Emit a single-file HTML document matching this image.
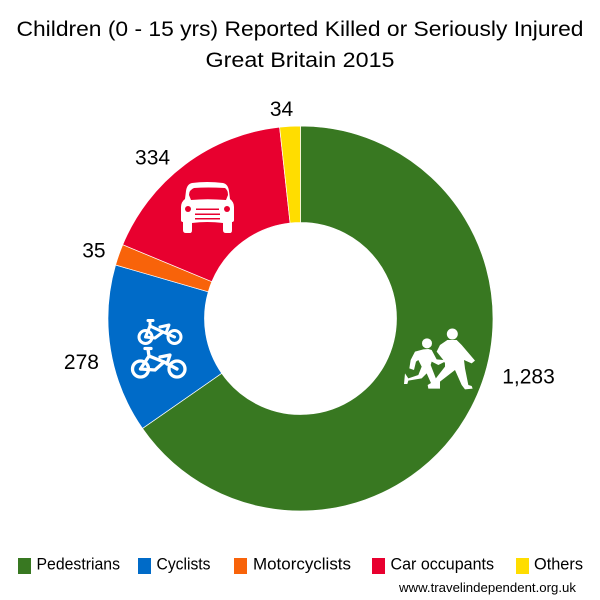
<!DOCTYPE html>
<html>
<head>
<meta charset="utf-8">
<title>Children Reported Killed or Seriously Injured</title>
<style>
html,body{margin:0;padding:0;background:#fff;width:600px;height:600px;overflow:hidden}
svg{display:block}
text{font-family:"Liberation Sans",sans-serif;fill:#000}
</style>
</head>
<body>
<svg id="chart" width="600" height="600" viewBox="0 0 600 600" xmlns="http://www.w3.org/2000/svg">
  <text x="300" y="36" text-anchor="middle" font-size="21.5" textLength="567" lengthAdjust="spacingAndGlyphs">Children (0 - 15 yrs) Reported Killed or Seriously Injured</text>
  <text x="300" y="67" text-anchor="middle" font-size="21.5" textLength="189" lengthAdjust="spacingAndGlyphs">Great Britain 2015</text>
  <g id="slices"></g>
  <g id="labels"></g>

  <g fill="#fff">
    <path fill-rule="evenodd" d="M192 183 Q187 184 186 191 L185 199 Q181 202 181 207 L181 220 Q181 222 183 222 L183 230 Q183 233 186 233 L190 233 Q192 233 192 230 L192 223 Q207 221 223 223 L223 230 Q223 233 226 233 L230 233 Q232 233 232 230 L232 222 Q234 222 234 220 L234 207 Q234 202 230 199 L229 191 Q228 184 223 183 Q207 181 192 183 Z M194 188 Q207 187 225 188 Q228 190 228 195 L226 200 Q207 198.500 191 200 L189 195 Q189 190 194 188 Z"/>
    <g fill="#e8002f">
      <circle cx="188" cy="209" r="3"/>
      <circle cx="227" cy="209" r="3"/>
      <rect x="196" y="208.500" width="23" height="1.500"/>
      <rect x="195" y="213.500" width="25" height="1.500"/>
      <rect x="195" y="218" width="25" height="1.500"/>
    </g>
  </g>

  <g fill="none" stroke="#fff" stroke-linecap="round" stroke-linejoin="round">
    <g stroke-width="3">
      <circle cx="145.500" cy="337" r="6.500"/>
      <circle cx="174.500" cy="337" r="6.500"/>
      <path d="M150 321 L150 326 L145.500 337 M150 326 L163 332 L174.500 337 M163 332 L155 338 L145.500 337 M148 320.500 L153 320.500 M160 327 L169 325 L166 333"/>
    </g>
    <g stroke-width="3.300">
      <circle cx="140.500" cy="369" r="8"/>
      <circle cx="177" cy="369" r="8"/>
      <path d="M148 349 L149 356 L140.500 369 M149 356 L164 362 L177 369 M164 362 L155 370 L140.500 369 M145 348.500 L151 348.500 M160 357 L170 355 L167 364"/>
    </g>
  </g>

  <g fill="#fff" transform="translate(390 310) scale(0.3333)">
    <circle cx="187" cy="72" r="16.500"/>
    <path d="M172 90 L150 105 L140 125 L160 150 L165 160 L165 170 L130 215 L113 225 L115 236 L150 236 L150 215 L195 180 L215 225 L225 238 L248 236 L245 228 L235 225 L225 175 L222 150 L245 160 L255 152 L215 105 L200 90 Z"/>
    <circle cx="111" cy="100" r="15"/>
    <path d="M100 118 L75 125 L62 150 L58 175 L72 180 L78 155 L85 150 L95 170 L85 195 L55 205 L45 190 L42 222 L52 222 L55 212 L95 205 L110 190 L130 235 L148 232 L122 165 L125 155 L145 165 L165 155 L160 150 L140 148 L125 120 L115 117 Z"/>
  </g>

  <g id="legend"></g>
  <text x="399" y="592" font-size="13" textLength="177" lengthAdjust="spacingAndGlyphs">www.travelindependent.org.uk</text>
</svg>
<script>
const categories = ['Pedestrians', 'Cyclists', 'Motorcyclists', 'Car occupants', 'Others'];
const seriesValues = [1283, 278, 35, 334, 34];
const printedValues = ['1,283', '278', '35', '334', '34'];
const sliceColors = ['#387821', '#006bc8', '#f8630a', '#e8002f', '#ffdd00'];

const NS = 'http://www.w3.org/2000/svg';
const cx = 300.5, cy = 318.5, outerR = 192.5, innerR = 96;
const labelR = 220;
const labelFudge = [{dx: 33, dy: -44}, {dx: -2, dy: 8}, {dx: 1, dy: 5}, {dx: -16, dy: 15}, {dx: -7, dy: 10}];
const legendSwatchX = [18, 138, 234, 372, 516];
const legendTextX = [36.5, 156.500, 253, 390.500, 534];
const legendTextW = [83.500, 54, 98, 103.500, 49];

function angleToPoint(angle, r) {
  return [cx + r * Math.sin(angle), cy - r * Math.cos(angle)];
}
function valueToAngle(value, total) {
  return value / total * 2 * Math.PI;
}
function sectorPath(a0, a1) {
  const large = a1 - a0 > Math.PI ? 1 : 0;
  const p0 = angleToPoint(a0, outerR), p1 = angleToPoint(a1, outerR);
  const p2 = angleToPoint(a1, innerR), p3 = angleToPoint(a0, innerR);
  return 'M' + p0[0] + ' ' + p0[1] +
    ' A' + outerR + ' ' + outerR + ' 0 ' + large + ' 1 ' + p1[0] + ' ' + p1[1] +
    ' L' + p2[0] + ' ' + p2[1] +
    ' A' + innerR + ' ' + innerR + ' 0 ' + large + ' 0 ' + p3[0] + ' ' + p3[1] + ' Z';
}

const total = seriesValues.reduce(function (a, b) { return a + b; }, 0);
const slicesG = document.getElementById('slices');
const labelsG = document.getElementById('labels');
const legendG = document.getElementById('legend');
let running = 0;

seriesValues.forEach(function (v, i) {
  const a0 = valueToAngle(running, total);
  running += v;
  const a1 = valueToAngle(running, total);

  const path = document.createElementNS(NS, 'path');
  path.setAttribute('d', sectorPath(a0, a1));
  path.setAttribute('fill', sliceColors[i]);
  path.setAttribute('stroke', '#fff');
  path.setAttribute('stroke-width', '0.7');
  
  
  slicesG.appendChild(path);

  const mid = (a0 + a1) / 2;
  const pt = angleToPoint(mid, labelR);
  const label = document.createElementNS(NS, 'text');
  label.setAttribute('x', pt[0] + labelFudge[i].dx);
  label.setAttribute('y', pt[1] + 7 + labelFudge[i].dy);
  label.setAttribute('text-anchor', 'middle');
  label.setAttribute('font-size', '21');
  label.textContent = printedValues[i];
  
  
  labelsG.appendChild(label);

  const swatch = document.createElementNS(NS, 'rect');
  swatch.setAttribute('x', legendSwatchX[i]);
  swatch.setAttribute('y', 558);
  swatch.setAttribute('width', 13);
  swatch.setAttribute('height', 16);
  swatch.setAttribute('fill', sliceColors[i]);
  
  
  legendG.appendChild(swatch);

  const t = document.createElementNS(NS, 'text');
  t.setAttribute('x', legendTextX[i]);
  t.setAttribute('y', 569.5);
  t.setAttribute('font-size', '16.5');
  t.setAttribute('textLength', legendTextW[i]);
  t.setAttribute('lengthAdjust', 'spacingAndGlyphs');
  t.textContent = categories[i];
  
  
  legendG.appendChild(t);
});
</script>
</body>
</html>
